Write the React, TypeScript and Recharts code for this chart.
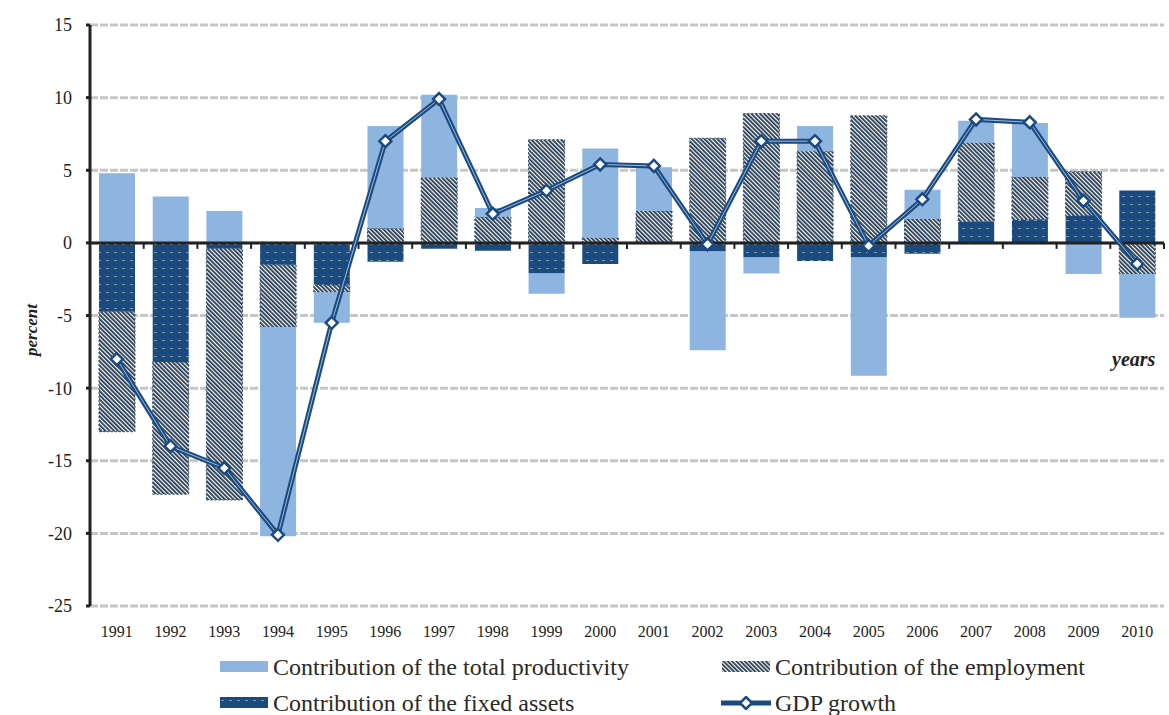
import { ComposedChart, Bar, Line, XAxis, YAxis, CartesianGrid, ReferenceLine } from 'recharts';

const years = ['1991', '1992', '1993', '1994', '1995', '1996', '1997', '1998', '1999', '2000',
  '2001', '2002', '2003', '2004', '2005', '2006', '2007', '2008', '2009', '2010'];
const tfp = [4.8, 3.2, 2.2, -14.4, -2.1, 7.05, 5.7, 0.6, -1.4, 6.15, 3.0, -6.8, -1.1, 1.75, -8.15, 2.0, 1.5, 3.7, -2.15, -3.0];
const employment = [-8.25, -9.1, -17.3, -4.3, -0.5, 1.0, 4.5, 1.8, 7.1, 0.35, 2.2, 7.2, 8.9, 6.3, 8.75, 1.65, 5.45, 2.95, 3.05, -2.15];
const fixedAssets = [-4.75, -8.2, -0.4, -1.5, -2.9, -1.3, -0.4, -0.55, -2.1, -1.45, 0, -0.6, -1.0, -1.25, -1.0, -0.75, 1.45, 1.6, 1.85, 3.6];
const gdp = [-8.0, -14.0, -15.5, -20.1, -5.5, 7.0, 9.9, 2.0, 3.6, 5.4, 5.3, -0.1, 7.0, 7.0, -0.2, 3.0, 8.5, 8.3, 2.9, -1.45];
const yTicks = [-25, -20, -15, -10, -5, 0, 5, 10, 15];

const data = years.map((year, i) => ({
  year,
  tfp: tfp[i],
  employment: employment[i],
  fixed: fixedAssets[i],
  gdp: gdp[i],
}));

const FONT = '"Liberation Serif", "Times New Roman", serif';
const LIGHT = '#8EB4E0';
const DARK = '#1B4B7E';
const TEXT = '#222';

function Diamond(props: any) {
  const { cx, cy } = props;
  if (cx == null || cy == null) return null;
  const r = 6;
  return (
    <path
      d={`M${cx},${cy - r} L${cx + r},${cy} L${cx},${cy + r} L${cx - r},${cy} Z`}
      fill="#fff"
      stroke={DARK}
      strokeWidth={2.5}
    />
  );
}

// zero line doubles as the category axis, with ticks between the years
function ZeroAxis(props: any) {
  const { x1, x2, y1 } = props;
  const step = (x2 - x1) / years.length;
  return (
    <g>
      <line x1={x1} x2={x2} y1={y1} y2={y1} stroke={TEXT} strokeWidth={3} />
      {years.map((_, i) => (
        <line key={i} x1={x1 + (i + 1) * step} x2={x1 + (i + 1) * step} y1={y1} y2={y1 + 6} stroke={TEXT} strokeWidth={2} />
      ))}
    </g>
  );
}

function LegendItem({ icon, label }: { icon: 'tfp' | 'emp' | 'fixed' | 'gdp'; label: string }) {
  return (
    <div style={{ display: 'flex', alignItems: 'center', height: 36 }}>
      <svg width={50} height={14} style={{ marginRight: 4 }}>
        {icon === 'tfp' && <rect x={1} y={1} width={48} height={11} fill={LIGHT} />}
        {icon === 'emp' && <rect x={1} y={1} width={48} height={11} fill="url(#empPattern)" />}
        {icon === 'fixed' && <rect x={1} y={1} width={48} height={11} fill="url(#fixedPattern)" />}
        {icon === 'gdp' && (
          <g>
            <line x1={0} x2={50} y1={7} y2={7} stroke={DARK} strokeWidth={5} />
            <Diamond cx={25} cy={7} />
          </g>
        )}
      </svg>
      <span>{label}</span>
    </div>
  );
}

export default function App() {
  return (
    <div style={{ position: 'absolute', left: 0, top: 0, width: 1169, height: 715, background: '#fff', fontFamily: FONT, overflow: 'hidden' }}>
      <ComposedChart
        width={1169}
        height={650}
        data={data}
        stackOffset="sign"
        barSize={36}
        margin={{ top: 25, right: 5, bottom: 0, left: 0 }}
      >
        <defs>
          <pattern id="empPattern" patternUnits="userSpaceOnUse" width={3} height={3} patternTransform="rotate(-45)">
            <rect width={3} height={3} fill="#fff" />
            <rect width={1.8} height={3} fill="#22384F" />
          </pattern>
          <pattern id="fixedPattern" patternUnits="userSpaceOnUse" width={8} height={8}>
            <rect width={8} height={8} fill={DARK} />
            <rect x={2} y={4} width={3} height={1} fill="#fff" fillOpacity={0.45} />
          </pattern>
        </defs>
        <CartesianGrid vertical={false} stroke="#C6C6C6" strokeWidth={3} strokeDasharray="8 2" />
        <XAxis
          dataKey="year"
          axisLine={false}
          tickLine={false}
          tickMargin={14}
          height={44}
          interval={0}
          tick={{ fontSize: 16, fill: TEXT, fontFamily: FONT }}
        />
        <YAxis
          width={90}
          domain={[-25, 15]}
          ticks={yTicks}
          interval={0}
          axisLine={{ stroke: TEXT, strokeWidth: 3 }}
          tickLine={{ stroke: TEXT, strokeWidth: 3 }}
          tickSize={4}
          tickMargin={14}
          tick={{ fontSize: 18, fill: TEXT, fontFamily: FONT }}
        />
        <Bar dataKey="fixed" stackId="a" fill="url(#fixedPattern)" isAnimationActive={false} />
        <Bar dataKey="employment" stackId="a" fill="url(#empPattern)" stroke="#2B4A6F" strokeWidth={1} strokeDasharray="2 2" isAnimationActive={false} />
        <Bar dataKey="tfp" stackId="a" fill={LIGHT} isAnimationActive={false} />
        <ReferenceLine y={0} shape={ZeroAxis} />
        <Line dataKey="gdp" stroke={DARK} strokeWidth={5} dot={false} isAnimationActive={false} />
        <Line dataKey="gdp" stroke="#9DBBE0" strokeWidth={1} dot={false} isAnimationActive={false} />
        <Line dataKey="gdp" stroke="none" dot={<Diamond />} activeDot={false} isAnimationActive={false} />
      </ComposedChart>

      <div style={{ position: 'absolute', left: 6, top: 330, transform: 'translate(0, -50%) rotate(-90deg)', transformOrigin: 'center', fontSize: 17, fontStyle: 'italic', fontWeight: 'bold', color: TEXT }}>
        percent
      </div>
      <div style={{ position: 'absolute', left: 1112, top: 348, fontSize: 20, fontStyle: 'italic', fontWeight: 'bold', color: TEXT }}>
        years
      </div>

      <div style={{ position: 'absolute', left: 219, top: 649, fontSize: 24, color: '#2a2a2a', lineHeight: '36px' }}>
        <LegendItem icon="tfp" label="Contribution of the total productivity" />
        <LegendItem icon="fixed" label="Contribution of the fixed assets" />
      </div>
      <div style={{ position: 'absolute', left: 721, top: 649, fontSize: 24, color: '#2a2a2a', lineHeight: '36px' }}>
        <LegendItem icon="emp" label="Contribution of the employment" />
        <LegendItem icon="gdp" label="GDP growth" />
      </div>
    </div>
  );
}
